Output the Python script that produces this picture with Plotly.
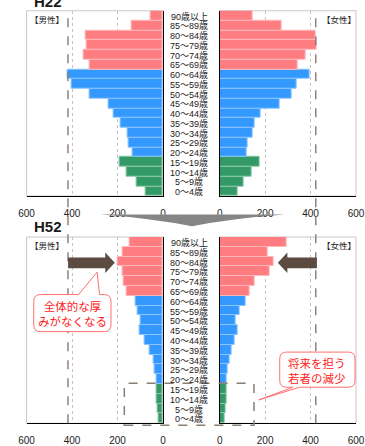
import plotly.graph_objects as go

# Age groups, youngest first (bottom of each pyramid)
ages = ["0～4歳", "5～9歳", "10～14歳", "15～19歳", "20～24歳", "25～29歳",
        "30～34歳", "35～39歳", "40～44歳", "45～49歳", "50～54歳", "55～59歳",
        "60～64歳", "65～69歳", "70～74歳", "75～79歳", "80～84歳", "85～89歳",
        "90歳以上"]

# Population by age group (persons)
h22_male = [76, 117, 159, 189, 133, 149, 155, 185, 218, 239, 321, 401, 418,
            323, 351, 338, 342, 138, 53]
h22_female = [81, 105, 140, 176, 118, 125, 144, 155, 180, 263, 315, 340, 397,
              342, 378, 428, 424, 273, 144]
h52_male = [18, 22, 26, 28, 26, 35, 39, 59, 80, 102, 97, 110, 122,
            159, 173, 177, 198, 177, 148]
h52_female = [21, 25, 31, 31, 31, 35, 42, 52, 67, 80, 71, 88, 114,
              133, 155, 220, 238, 210, 294]

# H22 peak levels carried down as reference lines
ref_male = 418
ref_female = 423

x_ticks = [0, 200, 400, 600]

W, H = 365, 446
FONT = "Noto Sans CJK JP"
LABEL_FONT = "Liberation Sans, Noto Sans CJK JP"


def px(x):
    return x / W


def py(y):
    return 1 - y / H


def path(cmds):
    out = []
    for c in cmds:
        if c == "Z":
            out.append("Z")
            continue
        op, *pts = c
        coords = [f"{px(x):.5f},{py(y):.5f}" for (x, y) in pts]
        out.append(op + " " + " ".join(coords))
    return " ".join(out)


GREEN, BLUE, PINK = "#339966", "#3399FF", "#FF7C80"
GREEN_E, BLUE_E, PINK_E = "#8CC9A9", "#8CC4FF", "#FFB9BB"


def group_colors():
    fill, edge = [], []
    for i in range(len(ages)):
        if i <= 3:
            fill.append(GREEN); edge.append(GREEN_E)
        elif i <= 12:
            fill.append(BLUE); edge.append(BLUE_E)
        else:
            fill.append(PINK); edge.append(PINK_E)
    return fill, edge


fill, edge = group_colors()
ypos = list(range(len(ages)))

fig = go.Figure()
panels = [("x", "y", h22_male), ("x2", "y2", h22_female),
          ("x3", "y3", h52_male), ("x4", "y4", h52_female)]
for xa, ya, vals in panels:
    fig.add_trace(go.Bar(
        x=vals, y=ypos, orientation="h", xaxis=xa, yaxis=ya,
        marker=dict(color=fill, line=dict(color=edge, width=1)),
        showlegend=False, hoverinfo="skip"))

top_dom = [py(201), py(11)]
bot_dom = [py(434), py(243)]
male_dom = [px(19.5), px(162.5)]
fem_dom = [px(222), 1.0]

tickfont = dict(family=LABEL_FONT, size=10, color="#222222")


def xaxis(domain, rng, anchor):
    return dict(domain=domain, range=rng, anchor=anchor, tickvals=x_ticks,
                showgrid=True, gridcolor="#c4c4c4", griddash="dot",
                gridwidth=1, showline=True, linecolor="black", linewidth=1.2,
                ticks="", ticklabelstandoff=8, tickfont=tickfont,
                zeroline=False, fixedrange=True, ticklabeloverflow="allow")


def yaxis(domain, anchor, side):
    return dict(domain=domain, range=[-0.5, 18.5], anchor=anchor, side=side,
                showline=True, linecolor="black", linewidth=1.2,
                showticklabels=False, showgrid=False, zeroline=False,
                ticks="", fixedrange=True)


shapes = []
# light panel frames
for xa, ya in [("x", "y"), ("x2", "y2"), ("x3", "y3"), ("x4", "y4")]:
    shapes.append(dict(type="rect", xref=f"{xa} domain", yref=f"{ya} domain",
                       x0=0, x1=1, y0=0, y1=1, layer="below",
                       line=dict(color="#c8c8c8", width=1)))

# H22 peak reference lines running through both pyramids
shapes.append(dict(type="line", xref="x", yref="paper", x0=ref_male,
                   x1=ref_male, y0=py(434), y1=py(11),
                   line=dict(color="#8a7a6e", width=1.4, dash="dash")))
shapes.append(dict(type="line", xref="x2", yref="paper", x0=ref_female,
                   x1=ref_female, y0=py(434), y1=py(11),
                   line=dict(color="#8a7a6e", width=1.4, dash="dash")))

# grey transition chevron between the two years
shapes.append(dict(type="path", xref="paper", yref="paper",
                   path=path([("M", (97, 220)), ("L", (290, 220)),
                              ("Q", (235, 224), (193, 232)),
                              ("Q", (151, 224), (97, 220)), "Z"]),
                   fillcolor="#858585", line=dict(width=0)))

# brown arrows pointing at the elderly bars
ARROW = "#5C4B40"
shapes.append(dict(type="path", xref="paper", yref="paper",
                   path=path([("M", (63, 264)), ("L", (102, 264)),
                              ("L", (102, 259)), ("L", (112, 269.5)),
                              ("L", (102, 280)), ("L", (102, 275)),
                              ("L", (63, 275)), "Z"]),
                   fillcolor=ARROW, line=dict(width=0)))
shapes.append(dict(type="path", xref="paper", yref="paper",
                   path=path([("M", (324, 264)), ("L", (293, 264)),
                              ("L", (293, 259)), ("L", (283, 269.5)),
                              ("L", (293, 280)), ("L", (293, 275)),
                              ("L", (324, 275)), "Z"]),
                   fillcolor=ARROW, line=dict(width=0)))

# dashed box around the youngest groups
shapes.append(dict(type="rect", xref="paper", yref="paper",
                   x0=px(122), x1=px(258), y0=py(436), y1=py(393),
                   line=dict(color="#8a7d72", width=1.5, dash="dash")))

# red callouts
CALL = "#FF6F6F"
r = 7
x0, y0, x1, y1 = 27, 302, 108, 340
shapes.append(dict(type="path", xref="paper", yref="paper",
                   path=path([("M", (x0 + r, y0)), ("L", (74, y0)),
                              ("L", (93.5, 279)), ("L", (96, y0)),
                              ("L", (x1 - r, y0)), ("Q", (x1, y0), (x1, y0 + r)),
                              ("L", (x1, y1 - r)), ("Q", (x1, y1), (x1 - r, y1)),
                              ("L", (x0 + r, y1)), ("Q", (x0, y1), (x0, y1 - r)),
                              ("L", (x0, y0 + r)), ("Q", (x0, y0), (x0 + r, y0)),
                              "Z"]),
                   fillcolor="white", line=dict(color=CALL, width=1)))
x0, y0, x1, y1 = 285, 361, 364, 397
shapes.append(dict(type="path", xref="paper", yref="paper",
                   path=path([("M", (x0 + r, y0)), ("L", (x1 - r, y0)),
                              ("Q", (x1, y0), (x1, y0 + r)),
                              ("L", (x1, y1 - r)), ("Q", (x1, y1), (x1 - r, y1)),
                              ("L", (306, y1)), ("L", (263, 410)),
                              ("L", (299, y1)),
                              ("L", (x0 + r, y1)), ("Q", (x0, y1), (x0, y1 - r)),
                              ("L", (x0, y0 + r)), ("Q", (x0, y0), (x0 + r, y0)),
                              "Z"]),
                   fillcolor="white", line=dict(color=CALL, width=1)))

annotations = []


def text(x, y, s, size, color="#222222", bold=False, anchor="center",
         family=FONT):
    annotations.append(dict(xref="paper", yref="paper", x=px(x), y=py(y),
                            text=f"<b>{s}</b>" if bold else s,
                            showarrow=False, xanchor=anchor, yanchor="middle",
                            font=dict(family=family, size=size, color=color)))


# age labels in the centre column
for ya in ["y", "y3"]:
    for i, lab in enumerate(ages):
        annotations.append(dict(xref="paper", yref=ya, x=px(190), y=i,
                                text=lab, showarrow=False, xanchor="center",
                                yanchor="middle", height=10,
                                font=dict(family=LABEL_FONT, size=9,
                                          color="#222222")))

text(25, 1.5, "H22", 15, "#1a1a1a", bold=True, anchor="left",
     family="Liberation Sans")
text(25, 232.5, "H52", 15, "#1a1a1a", bold=True, anchor="left",
     family="Liberation Sans")
for yy in (19.5, 251.5):
    text(41, yy, "【男性】", 8.5)
    text(347.5, yy, "【女性】", 8.5)

text(67.5, 321, "全体的な厚<br>みがなくなる", 11.5, "#FF1A1A")
text(324.5, 380, "将来を担う<br>若者の減少", 11.5, "#FF1A1A")

fig.update_layout(
    width=W, height=H, margin=dict(l=0, r=0, t=0, b=0),
    paper_bgcolor="white", plot_bgcolor="white", bargap=0,
    xaxis=xaxis(male_dom, [600, 0], "y"),
    xaxis2=xaxis(fem_dom, [0, 600], "y2"),
    xaxis3=xaxis(male_dom, [600, 0], "y3"),
    xaxis4=xaxis(fem_dom, [0, 600], "y4"),
    yaxis=yaxis(top_dom, "x", "right"),
    yaxis2=yaxis(top_dom, "x2", "left"),
    yaxis3=yaxis(bot_dom, "x3", "right"),
    yaxis4=yaxis(bot_dom, "x4", "left"),
    shapes=shapes, annotations=annotations,
)

fig.write_html("out.html", config={"displayModeBar": False})
